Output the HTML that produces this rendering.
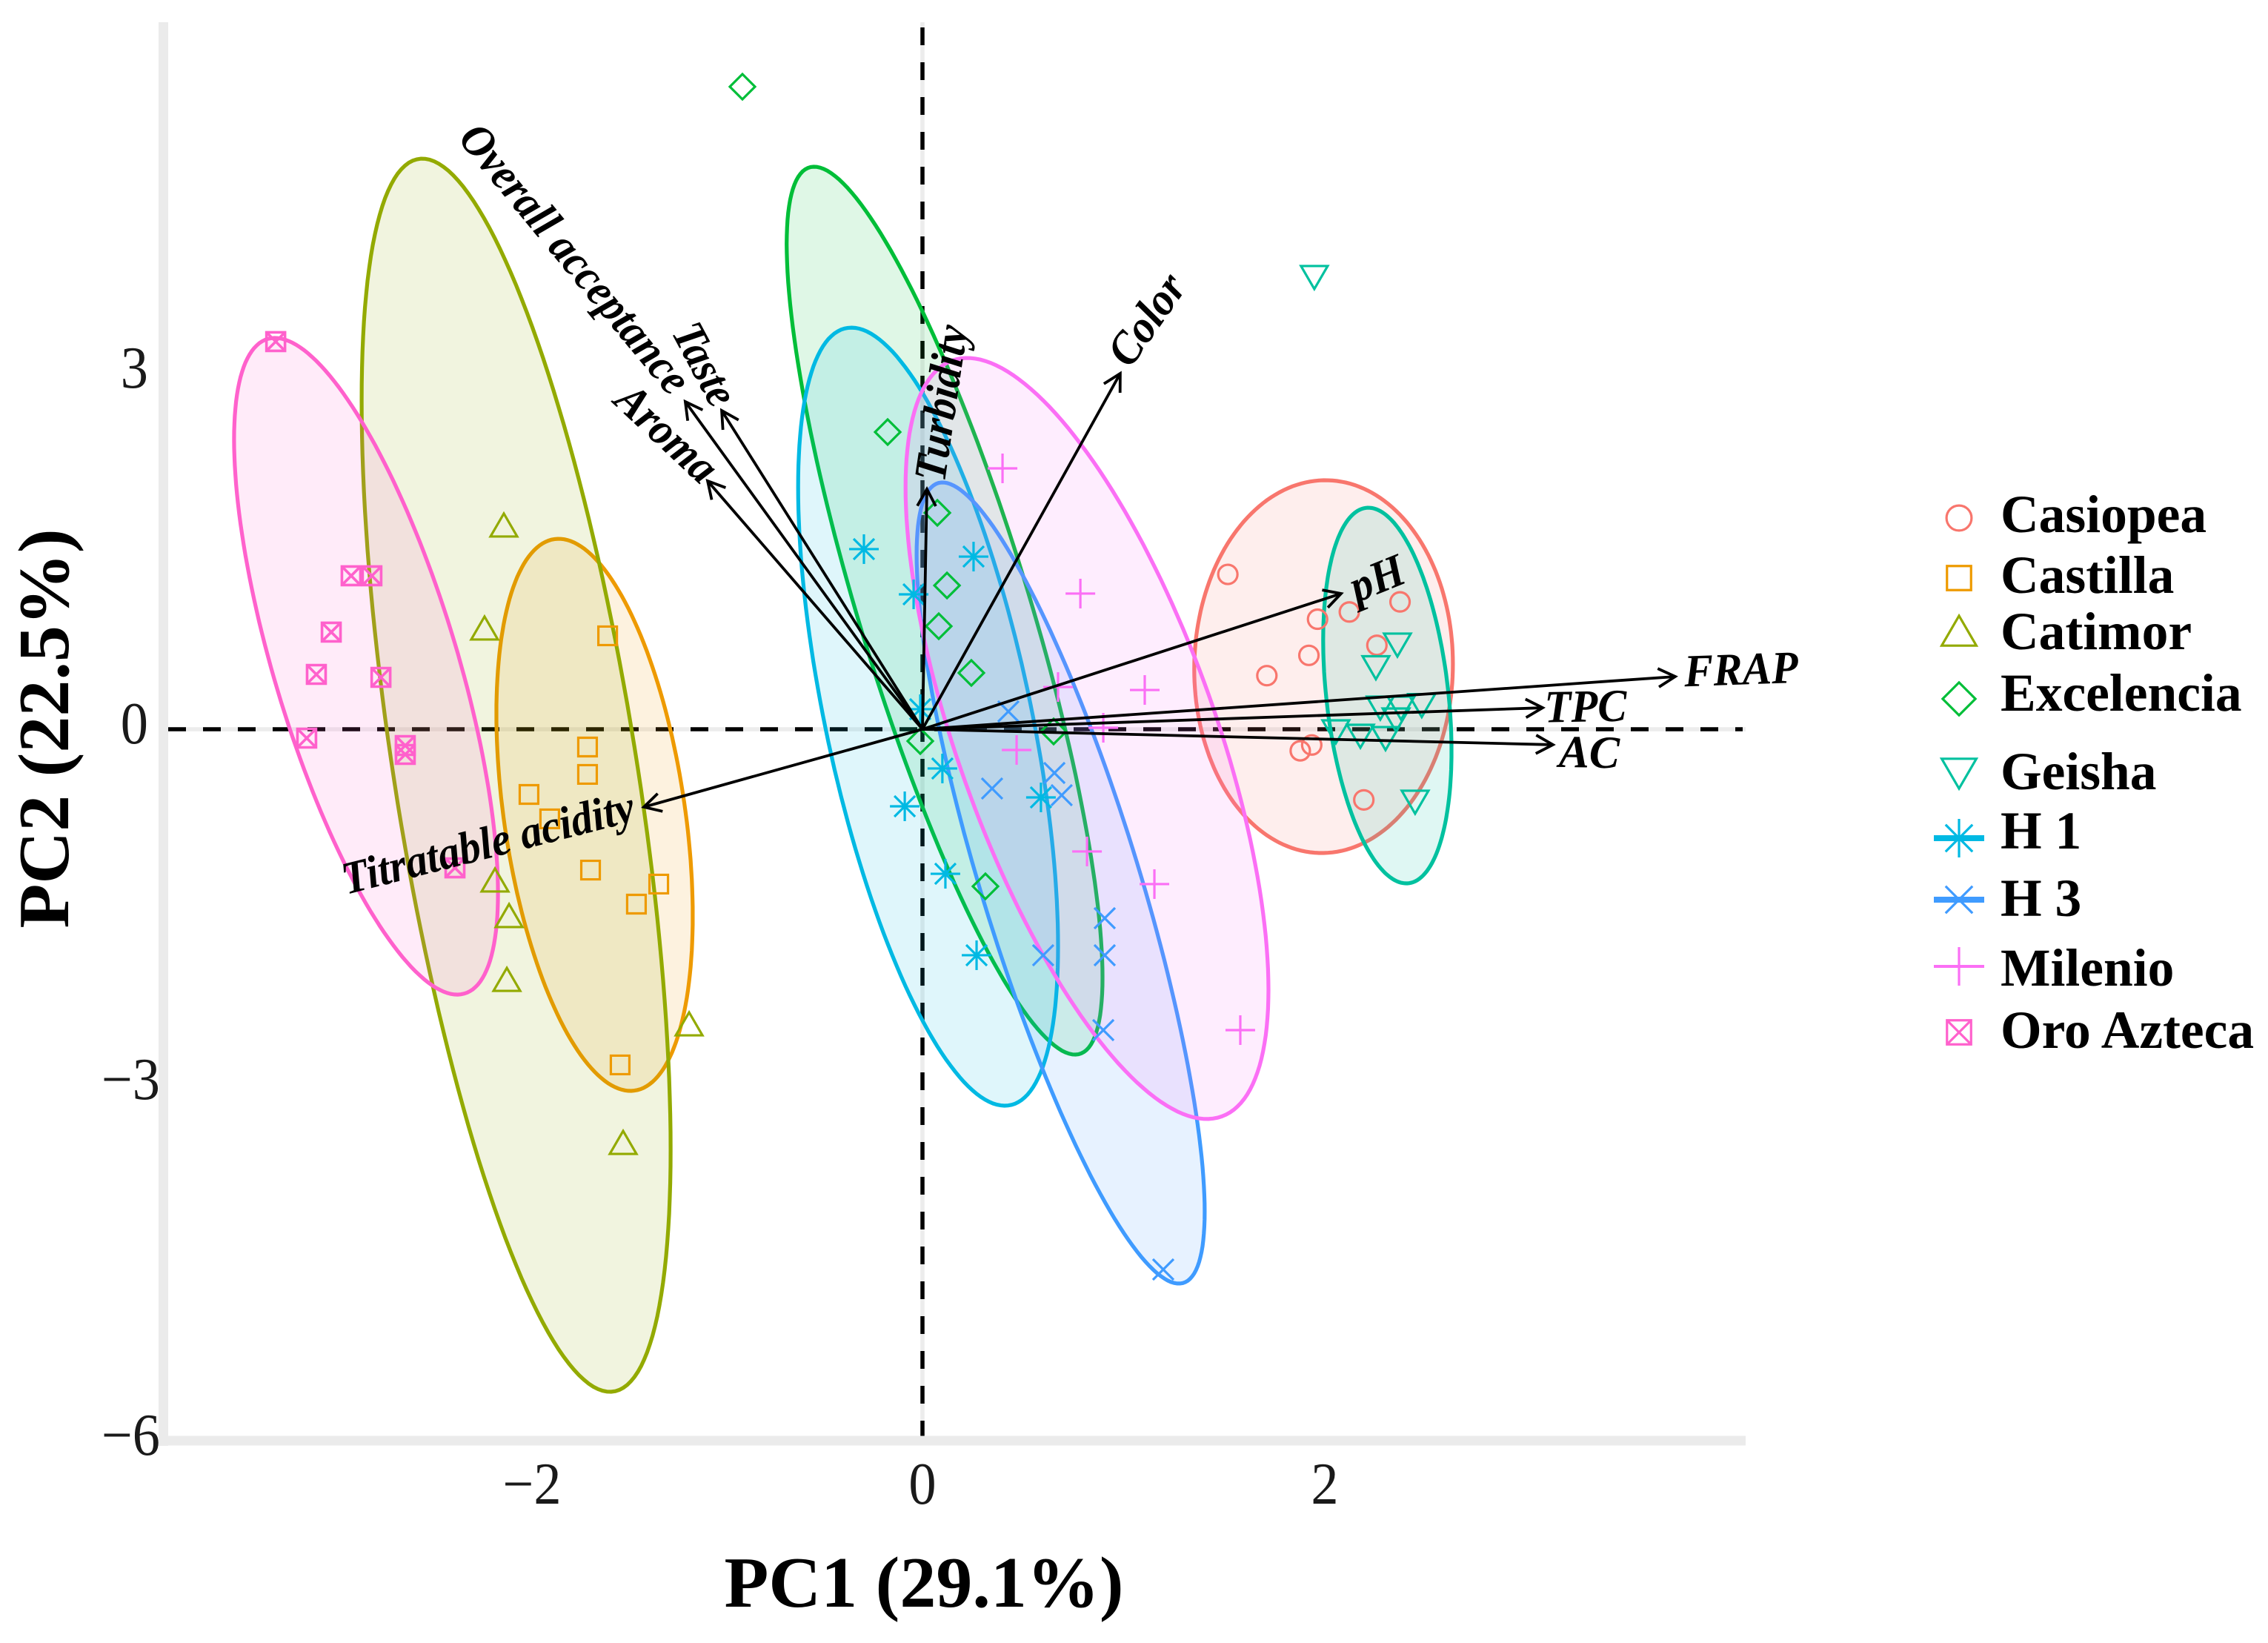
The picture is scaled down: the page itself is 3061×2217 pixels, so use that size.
<!DOCTYPE html>
<html lang="en">
<head>
<meta charset="utf-8">
<title>PCA biplot of coffee varieties</title>
<style>
  html, body { margin: 0; padding: 0; background: #ffffff; }
  svg { display: block; font-family: "Liberation Serif", serif; }
</style>
</head>
<body>
<svg id="chart" xmlns="http://www.w3.org/2000/svg" width="3061" height="2217" viewBox="0 0 3061 2217">
  <rect x="0" y="0" width="3061" height="2217" fill="#ffffff"/>
  <text x="1247" y="2168" font-size="98" font-weight="700" text-anchor="middle" fill="#000">PC1 (29.1%)</text>
  <text transform="translate(92,983) rotate(-90)" font-size="98" font-weight="700" text-anchor="middle" fill="#000">PC2 (22.5%)</text>
</svg>
<script>
const categories = ['Casiopea', 'Castilla', 'Catimor', 'Excelencia', 'Geisha', 'H 1', 'H 3', 'Milenio', 'Oro Azteca'];
const xTicks = [-2, 0, 2];
const yTicks = [3, 0, -3, -6];
const xTickLabels = ['\u22122', '0', '2'];
const yTickLabels = ['3', '0', '\u22123', '\u22126'];

const casiopeaPC1 = [1.518, 1.712, 1.921, 1.964, 2.122, 2.374, 2.259, 1.878, 1.935, 2.194];
const casiopeaPC2 = [1.306, 0.452, 0.623, 0.928, 0.989, 1.074, 0.708, -0.182, -0.133, -0.596];
const castillaPC1 = [-1.565, -1.665, -1.665, -1.956, -1.853, -1.650, -1.311, -1.422, -1.503];
const castillaPC2 = [0.788, -0.15, -0.381, -0.55, -0.756, -1.188, -1.306, -1.475, -2.831];
const catimorPC1 = [-2.081, -2.177, -2.125, -2.055, -2.066, -1.160, -1.488];
const catimorPC2 = [1.713, 0.844, -1.281, -1.581, -2.119, -2.494, -3.494];
const excelenciaPC1 = [-0.895, -0.173, 0.074, 0.122, 0.081, 0.243, -0.011, 0.652, 0.313];
const excelenciaPC2 = [5.419, 2.506, 1.825, 1.2125, 0.869, 0.475, -0.1, -0.019, -1.325];
const geishaPC1 = [1.948, 2.361, 2.254, 2.449, 2.276, 2.379, 2.482, 2.354, 2.055, 2.177, 2.302];
const geishaPC2 = [3.819, 0.719, 0.528, -0.606, 0.1875, 0.1875, 0.209, 0.0875, -0.0125, -0.05, -0.069];
const h1PC1 = [-0.291, -0.044, 0.254, -0.011, 0.099, -0.088, 0.589, 0.114, 0.269];
const h1PC2 = [1.519, 1.1375, 1.456, 0.169, -0.331, -0.65, -0.575, -1.219, -1.906];
const h3PC1 = [0.427, 0.656, 0.346, 0.692, 0.906, 0.906, 0.600, 0.899, 1.197];
const h3PC2 = [0.15, -0.369, -0.5, -0.556, -1.594, -1.906, -1.906, -2.5375, -4.556];
const mileniopc1 = [0.398, 0.785, 1.105, 0.674, 0.899, 0.468, 0.818, 1.153, 1.580];
const mileniopc2 = [2.2, 1.144, 0.331, 0.356, 0.0125, -0.175, -1.031, -1.306, -2.5375];
const oroAztecaPC1 = [-3.215, -2.840, -2.737, -2.939, -3.013, -2.692, -3.061, -2.571, -2.571, -2.324];
const oroAztecaPC2 = [3.269, 1.294, 1.294, 0.819, 0.4625, 0.4375, -0.075, -0.1375, -0.2125, -1.169];

const ellipseCenterPC1 = [1.994, -1.630, -2.020, 0.110, 2.311, 0.028, 0.687, 0.818, -2.766];
const ellipseCenterPC2 = [0.528, -0.722, -0.388, 1.0, 0.284, 0.106, -1.297, -0.078, 0.531];
const ellipseSpreadPC1 = [0.643, 0.488, 0.768, 0.785, 0.319, 0.646, 0.716, 0.902, 0.656];
const ellipseSpreadPC2 = [1.572, 2.328, 5.2, 3.744, 1.584, 3.281, 3.378, 3.209, 2.769];
const ellipseCorrelation = [0.014, -0.366, -0.607, -0.826, -0.295, -0.59, -0.82, -0.66, -0.691];

const loadingNames = ['Taste', 'Overall acceptance', 'Aroma', 'Turbidity', 'Color', 'pH', 'FRAP', 'TPC', 'AC', 'Titratable acidity'];
const loadingPC1 = [-0.998, -1.179, -1.068, 0.022, 0.983, 2.081, 3.742, 3.083, 3.134, -1.385];
const loadingPC2 = [2.6875, 2.7625, 2.094, 2.025, 3.0, 1.144, 0.444, 0.181, -0.131, -0.656];

const seriesPC1 = [casiopeaPC1, castillaPC1, catimorPC1, excelenciaPC1, geishaPC1, h1PC1, h3PC1, mileniopc1, oroAztecaPC1];
const seriesPC2 = [casiopeaPC2, castillaPC2, catimorPC2, excelenciaPC2, geishaPC2, h1PC2, h3PC2, mileniopc2, oroAztecaPC2];

/* ---------- presentation ---------- */
const colors = ['#F8766D', '#EE9A00', '#93AA00', '#00BE38', '#00C19F', '#00B9E3', '#3F9BFF', '#FB6FF5', '#FF61CC'];
const shapes = ['circle', 'square', 'triangle', 'diamond', 'down', 'asterisk', 'cross', 'plus', 'boxx'];
const legendBaselines = [718, 800, 876, 959, 1065, 1145, 1236, 1330, 1414];
const legendKeyCenters = [699, 780, 853, 943, 1042, 1131, 1214, 1304, 1393];
const labelLayout = {
  'Taste': {dx: -24, dy: -62, rot: 62, len: 118},
  'Overall acceptance': {dx: -150, dy: -192, rot: 50.5, len: 452},
  'Aroma': {dx: -56, dy: -63, rot: 43, len: 164},
  'Turbidity': {dx: 21, dy: -116, rot: -81.5, len: 212},
  'Color': {dx: 37, dy: -72, rot: -55, len: 136},
  'pH': {dx: 49, dy: -19, rot: -22, len: 75},
  'FRAP': {dx: 89, dy: -8, rot: -2, len: 154},
  'TPC': {dx: 58, dy: 0, rot: -1, len: 111},
  'AC': {dx: 49, dy: 12, rot: 1, len: 82},
  'Titratable acidity': {dx: -210, dy: 50, rot: -14.3, len: 405}
};

const NS = 'http://www.w3.org/2000/svg';
const svg = document.getElementById('chart');
const xScale = v => 1245 + 271.5 * v;
const yScale = v => 984 - 160 * v;
const slug = s => s.toLowerCase().replace(/\s+/g, '-');

function mk(tag, attrs, parent) {
  const el = document.createElementNS(NS, tag);
  for (const k in attrs) el.setAttribute(k, attrs[k]);
  (parent || svg).appendChild(el);
  return el;
}

/* axes */
const axisGroup = mk('g', {});


const zeroH = mk('line', {x1: 226, y1: yScale(0), x2: 2356, y2: yScale(0), stroke: '#ececec', 'stroke-width': 5.5}, axisGroup);


const zeroV = mk('line', {x1: xScale(0), y1: 30, x2: xScale(0), y2: 1944, stroke: '#ececec', 'stroke-width': 5.5}, axisGroup);


const dashH = mk('line', {x1: 227, y1: yScale(0), x2: 2352, y2: yScale(0), stroke: '#000', 'stroke-width': 5.5, 'stroke-dasharray': '24 23'}, axisGroup);


const dashV = mk('line', {x1: xScale(0), y1: 37, x2: xScale(0), y2: 1938, stroke: '#000', 'stroke-width': 5.5, 'stroke-dasharray': '24 23'}, axisGroup);


const leftAxis = mk('line', {x1: 220.5, y1: 30, x2: 220.5, y2: 1951, stroke: '#ebebeb', 'stroke-width': 13}, axisGroup);


const bottomAxis = mk('line', {x1: 214, y1: yScale(-6), x2: 2356, y2: yScale(-6), stroke: '#ebebeb', 'stroke-width': 13}, axisGroup);



xTicks.forEach((v, i) => {
  const t = mk('text', {transform: 'translate(' + (xScale(v) + (v < 0 ? 16 : 0)) + ',2029) scale(0.93,1)', 'font-size': 80, 'text-anchor': 'middle', fill: '#1a1a1a'});
  t.textContent = xTickLabels[i];
  
  
});
yTicks.forEach((v, i) => {
  const t = mk('text', {transform: 'translate(' + (v < 0 ? 216 : 200) + ',' + (yScale(v) + 19) + ') scale(0.93,1)', 'font-size': 80, 'text-anchor': 'end', fill: '#1a1a1a'});
  t.textContent = yTickLabels[i];
  
  
});

/* confidence ellipses */
const ellipseGroup = mk('g', {});


categories.forEach((name, i) => {
  const phi = Math.acos(ellipseCorrelation[i]);
  let d = '';
  for (let k = 0; k < 180; k++) {
    const t = k / 180 * 2 * Math.PI;
    const px = xScale(ellipseCenterPC1[i] + ellipseSpreadPC1[i] * Math.cos(t));
    const py = yScale(ellipseCenterPC2[i] + ellipseSpreadPC2[i] * Math.cos(t + phi));
    d += (k ? 'L' : 'M') + px.toFixed(1) + ' ' + py.toFixed(1);
  }
  const p = mk('path', {d: d + 'Z', fill: colors[i], 'fill-opacity': 0.125, stroke: colors[i], 'stroke-width': 5.2}, ellipseGroup);
  
  
});

/* markers */
function drawMarker(parent, shape, cx, cy, color, k, sw) {
  const common = {fill: 'none', stroke: color, 'stroke-width': sw};
  const seg = (x1, y1, x2, y2) => mk('line', Object.assign({x1: cx + x1 * k, y1: cy + y1 * k, x2: cx + x2 * k, y2: cy + y2 * k}, common), parent);
  const poly = pts => mk('polygon', Object.assign({points: pts.map(p => (cx + p[0] * k) + ',' + (cy + p[1] * k)).join(' ')}, common), parent);
  if (shape === 'circle') mk('circle', Object.assign({cx: cx, cy: cy, r: 13 * k}, common), parent);
  if (shape === 'square') poly([[-12.5, -12.5], [12.5, -12.5], [12.5, 12.5], [-12.5, 12.5]]);
  if (shape === 'triangle') poly([[0, -17], [18, 14], [-18, 14]]);
  if (shape === 'diamond') poly([[0, -17], [17, 0], [0, 17], [-17, 0]]);
  if (shape === 'down') poly([[-18, -14], [18, -14], [0, 17]]);
  if (shape === 'asterisk') { seg(-20, 0, 20, 0); seg(0, -20, 0, 20); seg(-14, -14, 14, 14); seg(-14, 14, 14, -14); }
  if (shape === 'cross') { seg(-14, -14, 14, 14); seg(-14, 14, 14, -14); }
  if (shape === 'plus') { seg(-20, 0, 20, 0); seg(0, -20, 0, 20); }
  if (shape === 'boxx') { poly([[-12.5, -12.5], [12.5, -12.5], [12.5, 12.5], [-12.5, 12.5]]); seg(-12.5, -12.5, 12.5, 12.5); seg(-12.5, 12.5, 12.5, -12.5); }
}

const pointsGroup = mk('g', {});


categories.forEach((name, i) => {
  const g = mk('g', {}, pointsGroup);
  
  
  seriesPC1[i].forEach((v, j) => {
    const m = mk('g', {}, g);
    
    
    drawMarker(m, shapes[i], xScale(v), yScale(seriesPC2[i][j]), colors[i], 1, shapes[i] === 'boxx' ? 3.6 : 3.2);
  });
});

/* loading arrows */
const arrowGroup = mk('g', {});


loadingNames.forEach((name, i) => {
  const tx = xScale(loadingPC1[i]), ty = yScale(loadingPC2[i]);
  const ox = xScale(0), oy = yScale(0);
  const ang = Math.atan2(ty - oy, tx - ox);
  const g = mk('g', {}, arrowGroup);
  
  
  mk('line', {x1: ox, y1: oy, x2: tx, y2: ty, stroke: '#000', 'stroke-width': 3.8}, g);
  const h = 26, w = 0.5;
  const ax = tx - h * Math.cos(ang - w), ay = ty - h * Math.sin(ang - w);
  const bx = tx - h * Math.cos(ang + w), by = ty - h * Math.sin(ang + w);
  mk('polyline', {points: ax + ',' + ay + ' ' + tx + ',' + ty + ' ' + bx + ',' + by, fill: 'none', stroke: '#000', 'stroke-width': 3.8}, g);
  const lay = labelLayout[name];
  const label = mk('text', {
    transform: 'translate(' + (tx + lay.dx) + ',' + (ty + lay.dy) + ') rotate(' + lay.rot + ')',
    'font-size': 62, 'font-weight': 700, 'font-style': 'italic', 'text-anchor': 'middle', dy: '0.3em', fill: '#000',
    textLength: lay.len, lengthAdjust: 'spacingAndGlyphs'
  }, g);
  label.textContent = name;
  
  
});

/* legend */
const legendGroup = mk('g', {});


categories.forEach((name, i) => {
  const g = mk('g', {}, legendGroup);
  
  
  const shape = shapes[i];
  if (shape === 'asterisk' || shape === 'cross' || shape === 'plus') {
    mk('line', {x1: 2610, y1: legendKeyCenters[i], x2: 2678, y2: legendKeyCenters[i], stroke: colors[i], 'stroke-width': shape === 'plus' ? 4 : 8}, g);
  }
  drawMarker(g, shape, 2644, legendKeyCenters[i], colors[i], 1.3, 3.2);
  const t = mk('text', {x: 2700, y: legendBaselines[i], 'font-size': 71.5, 'font-weight': 700, fill: '#000'}, g);
  t.textContent = name;
  
  
});
</script>
</body>
</html>
